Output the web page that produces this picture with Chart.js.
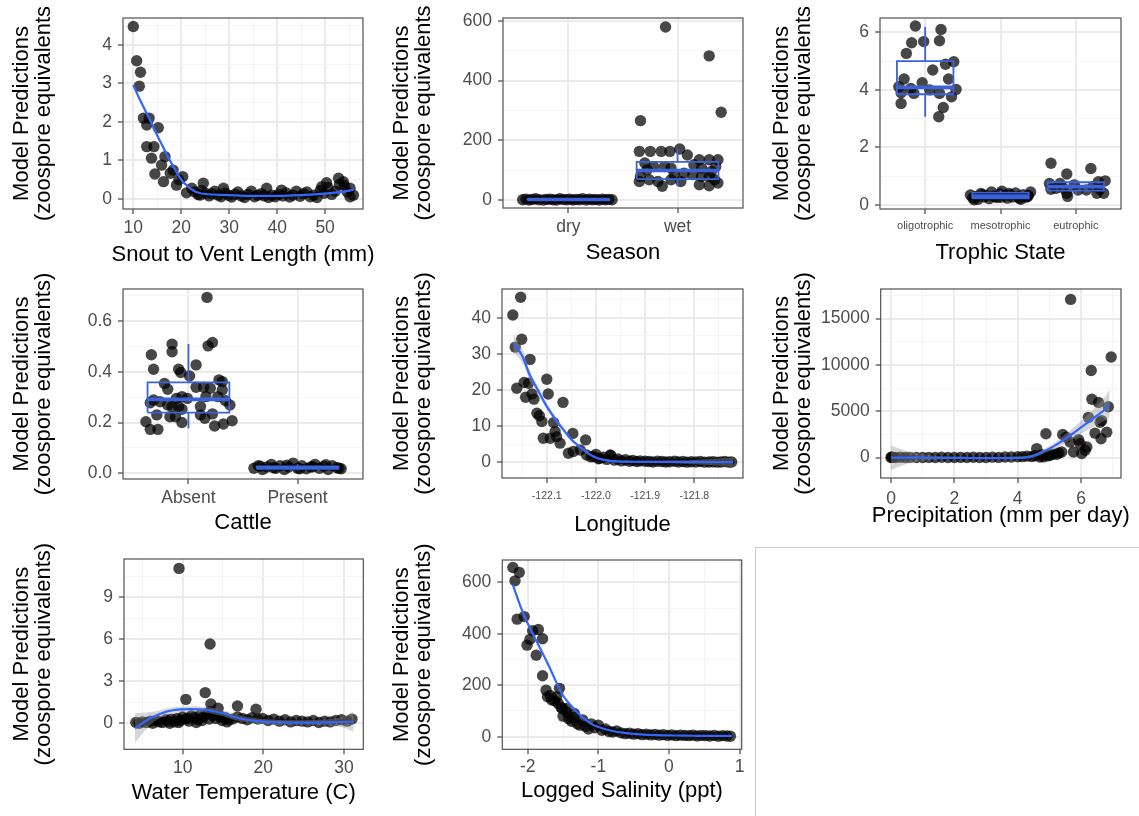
<!DOCTYPE html>
<html><head><meta charset="utf-8">
<script src="https://cdn.jsdelivr.net/npm/chart.js@4.4.0/dist/chart.umd.min.js"></script>
<style>
body{margin:0;background:#fff;width:1139px;height:816px;position:relative;overflow:hidden}
canvas{position:absolute}
.empty{position:absolute;left:755px;top:547px;width:390px;height:280px;border-left:1px solid #cccccc;border-top:1px solid #cccccc}
</style>
</head><body>
<div class="empty"></div>
<script>
// ---------------- DATA ----------------
// Panel 1: Snout to Vent Length
const svlX = [10,10.7,11.5,11.25,12.1,12.8,13.3,15.2,12.8,14.3,13.8,15.9,14.5,16.3,16.6,17.7,18.3,19.0,20.3,19.5,21.1,22.2,24.6,23.9,28.8,37.8,40.9,49.3,50.3,52.8,53.8,55.2,55.9,55.2,22.8,23.5,24.2,25.1,25.8,26.4,27.0,27.7,28.3,29.1,29.8,30.5,31.2,31.8,32.5,33.2,33.9,34.6,35.3,36.0,36.7,37.3,38.2,38.9,39.6,40.3,41.2,41.9,42.6,43.3,44.0,44.8,45.5,46.2,46.9,47.6,48.3,49.0,49.8,50.6,51.4,52.1,53.0,54.0,54.6];
const svlY = [4.48,3.59,3.29,2.93,2.1,1.92,2.1,1.85,1.36,1.36,1.06,0.88,0.65,0.45,1.1,0.67,0.75,0.36,0.58,0.5,0.16,0.28,0.41,0.1,0.28,0.28,0.23,0.32,0.42,0.54,0.45,0.28,0.1,0.06,0.18,0.12,0.22,0.15,0.08,0.14,0.2,0.1,0.06,0.16,0.1,0.05,0.12,0.18,0.08,0.04,0.12,0.2,0.06,0.1,0.14,0.08,0.04,0.1,0.06,0.12,0.08,0.16,0.05,0.1,0.2,0.07,0.14,0.18,0.06,0.1,0.04,0.22,0.15,0.3,0.12,0.2,0.38,0.35,0.18];
const svlCurveX = [10,11,12,13,14,15,16,17,18,19,20,21,22,23,24,25,30,35,40,45,50,53,56];
const svlCurveY = [2.96,2.68,2.42,2.17,1.92,1.65,1.4,1.15,0.92,0.7,0.5,0.37,0.26,0.19,0.15,0.13,0.1,0.08,0.08,0.1,0.14,0.18,0.24];

// Panel 2: Season
const seasonCats = ['dry','wet'];
const dryX = [0.58,0.61,0.64,0.67,0.7,0.73,0.77,0.8,0.83,0.86,0.89,0.92,0.95,0.98,1.01,1.04,1.07,1.1,1.13,1.16,1.19,1.22,1.25,1.28,1.31,1.34,1.37,1.4];
const dryY = [1,3,0,2,4,1,0,2,3,1,0,4,2,1,3,0,2,1,4,0,3,1,2,0,3,1,2,1];
const wetX = [1.89,2.29,2.40,1.66,1.65,1.75,1.85,1.93,2.02,2.09,2.20,2.29,2.37,1.70,1.78,1.88,1.66,1.74,1.82,1.86,1.97,2.06,2.14,2.22,2.31,2.35,1.65,2.03,2.20,2.29,2.37,1.94,1.72,2.22,2.34,2.15,1.94,2.29];
const wetY = [580,483,294,266,163,163,163,163,171,151,135,135,135,124,112,112,79,68,62,46,85,90,85,107,96,112,62,62,51,48,57,68,101,79,68,118,107,79];
const seasonStats = [[0,0,1.5,3,5],[46,70,99,128,170]]; // lo, q1, median, q3, hi

// Panel 3: Trophic State
const trophicCats = ['oligotrophic','mesotrophic','eutrophic'];
const oligoX = [0.87,1.21,0.82,0.98,1.19,0.75,1.27,1.38,1.10,0.72,0.65,0.96,1.31,1.41,0.68,0.85,1.19,1.35,0.68,1.24,1.18,1.06,0.81];
const oligoY = [6.22,6.10,5.64,5.68,5.71,5.27,4.89,4.98,4.69,4.38,4.11,4.25,4.38,4.02,3.90,3.88,3.88,3.76,3.53,3.39,3.07,4.0,4.05];
const mesoX = [1.6,1.63,1.67,1.7,1.74,1.78,1.81,1.85,1.88,1.92,1.95,1.99,2.02,2.06,2.09,2.13,2.16,2.2,2.23,2.27,2.3,2.34,2.37,2.4,1.65,1.76,1.9,2.0,2.11,2.25,2.36];
const mesoY = [0.35,0.25,0.3,0.2,0.4,0.28,0.33,0.22,0.45,0.3,0.26,0.38,0.48,0.32,0.24,0.35,0.28,0.42,0.3,0.2,0.36,0.27,0.33,0.45,0.18,0.36,0.31,0.27,0.4,0.24,0.3];
const eutroX = [2.67,2.88,3.2,2.65,2.79,2.88,2.89,3.23,3.3,3.39,3.37,3.28,3.14,3.03,2.98,2.74,2.67,2.83,3.32];
const eutroY = [1.45,1.08,1.27,0.75,0.75,0.41,0.3,0.64,0.81,0.84,0.41,0.41,0.52,0.52,0.7,0.58,0.55,0.6,0.55];
const trophicStats = [[3.07,3.85,4.09,5.0,6.2],[0.2,0.23,0.31,0.43,0.5],[0.35,0.5,0.64,0.79,0.88]];

// Panel 4: Cattle
const cattleCats = ['Absent','Present'];
const absX = [1.17,0.85,1.18,1.22,0.66,0.85,0.68,0.91,0.93,1.07,0.78,0.81,1.01,1.07,1.14,1.2,1.28,1.31,1.31,0.65,0.68,0.74,0.81,0.85,0.89,0.94,0.99,0.91,0.83,0.88,0.71,0.94,0.61,0.65,0.72,0.94,1.11,1.15,1.22,1.11,1.24,1.32,1.4,1.38,1.27,1.34,1.16];
const absY = [0.693,0.509,0.502,0.515,0.467,0.479,0.41,0.41,0.397,0.427,0.354,0.331,0.383,0.339,0.339,0.335,0.368,0.361,0.328,0.278,0.289,0.282,0.269,0.263,0.295,0.302,0.295,0.263,0.223,0.223,0.23,0.252,0.203,0.173,0.173,0.2,0.23,0.217,0.234,0.263,0.186,0.194,0.207,0.269,0.302,0.286,0.302];
const presX = [1.6,1.64,1.68,1.72,1.76,1.8,1.84,1.88,1.92,1.96,2.0,2.04,2.08,2.12,2.16,2.2,2.24,2.28,2.32,2.36,2.4,1.66,1.78,1.9,2.02,2.14,2.26,2.38];
const presY = [0.02,0.03,0.015,0.025,0.035,0.02,0.03,0.015,0.025,0.04,0.02,0.03,0.018,0.025,0.035,0.02,0.028,0.015,0.03,0.022,0.018,0.028,0.022,0.032,0.018,0.026,0.034,0.02];
const cattleStats = [[0.177,0.239,0.291,0.358,0.509],[0.012,0.018,0.022,0.027,0.036]];

// Panel 5: Longitude
const lonX = [-122.169,-122.153,-122.164,-122.151,-122.161,-122.146,-122.137,-122.134,-122.143,-122.130,-122.126,-122.100,-122.097,-122.120,-122.115,-122.110,-122.086,-122.107,-122.093,-122.067,-122.083,-122.080,-122.073,-122.047,-122.056,-122.046,-122.021,-122.032,-122.019,-122.005,-121.992,-121.971,-121.985,-121.978,-121.97,-121.962,-121.955,-121.948,-121.94,-121.932,-121.925,-121.917,-121.91,-121.9,-121.892,-121.884,-121.875,-121.866,-121.858,-121.85,-121.84,-121.832,-121.823,-121.815,-121.806,-121.797,-121.788,-121.779,-121.77,-121.762,-121.754,-121.746,-121.738,-121.73,-121.724,-122.01,-122.0,-121.995];
const lonY = [40.8,45.7,31.9,34.1,20.5,22.1,21.9,28.5,18.0,18.9,17.5,23.0,18.9,13.6,12.9,11.3,11.0,6.65,6.65,16.6,8.5,7.1,5.3,8.0,2.5,3.0,6.2,3.4,2.0,1.6,1.1,2.0,1.4,0.8,1.9,0.6,0.9,0.4,0.7,0.3,0.5,0.2,0.4,0.3,0.2,0.1,0.3,0.2,0.1,0.15,0.3,0.1,0.2,0.05,0.15,0.1,0.2,0.05,0.1,0.15,0.05,0.1,0.2,0.05,0.1,1.5,2.2,1.0];
const lonCurveX = [-122.168,-122.15,-122.134,-122.12,-122.1,-122.08,-122.066,-122.05,-122.032,-122.015,-121.998,-121.98,-121.965,-121.93,-121.85,-121.721];
const lonCurveY = [33,29.5,24,20.5,15.5,11.5,9,6.3,4.2,2.4,1.2,0.6,0.3,0.15,0.1,0.05];
const lonUpper = [35.5,31.3,25.3,21.5,16.3,12.2,9.6,6.8,4.6,2.7,1.5,0.9,0.6,0.4,0.4,1.3];
const lonLower = [30.5,27.7,22.7,19.5,14.7,10.8,8.4,5.8,3.8,2.1,0.9,0.3,0,-0.1,-0.2,-1.2];

// Panel 6: Precipitation
const precX = [5.67,6.95,6.32,6.34,6.55,6.86,6.23,6.65,6.6,6.44,6.81,6.63,4.89,5.42,5.53,4.6,5.65,5.92,5.97,6.18,5.76,6.02,6.13,5.39,5.02,5.23,4.81,0,0.02,0.05,0.15,0.3,0.45,0.6,0.8,1.0,1.2,1.4,1.6,1.8,2.0,2.2,2.4,2.6,2.8,3.0,3.2,3.4,3.6,3.8,4.0,4.15,4.3,4.45,4.55,4.7,4.75,4.95,5.1,5.3];
const precY = [17062,10843,9385,6293,5937,5474,4337,3981,3800,2630,2737,2026,2560,2488,2204,960,1671,1920,1493,1138,604,427,782,604,249,356,71,0,50,20,10,30,0,20,10,0,15,5,25,0,10,20,5,30,10,0,40,20,60,50,80,100,150,120,200,60,300,180,350,500];
const precCurveX = [0,0.5,1,1.5,2,2.5,3,3.5,4,4.25,4.5,4.75,5,5.25,5.5,5.75,6,6.25,6.5,6.75,6.9];
const precCurveY = [0,-10,-20,-30,-40,-50,-60,-60,-30,20,200,550,960,1450,2030,2620,3250,3880,4520,5180,5760];
const precUpper = [1300,700,350,150,80,60,50,60,100,170,350,750,1250,1800,2500,3200,3950,4750,5600,6500,7360];
const precLower = [-1350,-700,-380,-200,-150,-150,-160,-170,-150,-120,-20,330,670,1080,1560,2050,2580,3060,3530,4000,4340];

// Panel 7: Water Temperature
const wtX = [9.55,13.4,12.8,10.4,13.5,14.4,16.8,19.1,4.2,4.6,5.0,5.5,6.0,6.3,6.8,7.1,7.5,7.9,8.2,8.6,9.0,9.3,9.7,10.0,10.4,10.8,11.1,11.5,11.9,12.2,12.6,13.0,13.3,13.7,14.1,14.5,14.9,15.3,15.7,8.4,9.5,10.6,11.7,12.4,13.5,14.6,15.5,16.2,16.8,17.4,18.0,18.6,19.3,19.9,20.6,21.3,22.0,22.7,23.4,24.1,24.8,25.5,26.2,26.9,27.6,28.3,29.0,29.7,30.4,31.0];
const wtY = [11.07,5.67,2.19,1.71,1.38,1.07,1.24,1.0,0.05,0.0,0.1,0.05,0.15,0.0,0.2,0.1,0.05,0.25,0.15,0.3,0.1,0.35,0.2,0.45,0.3,0.15,0.55,0.4,0.25,0.6,0.45,0.7,0.3,0.55,0.35,0.6,0.2,0.4,0.25,0.0,0.05,0.35,0.05,0.2,0.85,0.45,0.1,0.3,0.45,0.35,0.25,0.4,0.3,0.35,0.2,0.3,0.15,0.25,0.1,0.2,0.15,0.1,0.2,0.05,0.15,0.1,0.2,0.25,0.15,0.3];
const wtCurveX = [4.1,5,6,7,8,9,10,11,12,13,14,15,16,17,18,19,20,22,24,26,28,30,31.2];
const wtCurveY = [-0.36,0.0,0.36,0.62,0.83,0.95,1.0,1.02,1.0,0.95,0.85,0.72,0.52,0.36,0.25,0.17,0.12,0.07,0.05,0.05,0.06,0.09,0.12];
const wtUpper = [0.7,0.75,0.8,0.9,1.05,1.15,1.2,1.22,1.2,1.17,1.08,0.95,0.75,0.57,0.44,0.36,0.31,0.24,0.21,0.22,0.28,0.5,0.85];
const wtLower = [-1.4,-0.75,-0.1,0.32,0.6,0.75,0.8,0.82,0.8,0.75,0.62,0.5,0.3,0.16,0.07,-0.01,-0.06,-0.1,-0.11,-0.12,-0.16,-0.32,-0.6];

// Panel 8: Logged Salinity
const salX = [-2.21,-2.12,-2.18,-2.15,-2.05,-1.93,-1.85,-1.79,-2.01,-1.97,-1.88,-1.79,-1.74,-1.72,-1.55,-1.66,-1.59,-1.51,-1.5,-1.46,-1.42,-1.38,-1.34,-1.3,-1.26,-1.22,-1.18,-1.14,-1.1,-1.05,-1.0,-0.95,-0.9,-0.85,-0.8,-0.74,-0.68,-0.62,-0.56,-0.5,-0.44,-0.38,-0.32,-0.26,-0.2,-0.14,-0.08,-0.02,0.04,0.1,0.16,0.22,0.28,0.34,0.4,0.46,0.52,0.58,0.64,0.7,0.76,0.82,0.87,-1.62,-1.57,-1.53,-1.68,-1.45,-1.35];
const salY = [658,639,606,457,467,412,417,381,356,378,317,237,181,155,188,143,155,110,80,110,70,60,90,50,45,65,40,30,50,35,45,25,30,20,18,22,15,12,14,10,12,8,10,7,9,6,8,5,7,4,6,5,4,6,3,5,4,3,5,2,4,3,2,140,130,115,160,95,75];
const salCurveX = [-2.21,-2.1,-2.0,-1.9,-1.8,-1.7,-1.6,-1.5,-1.4,-1.3,-1.2,-1.1,-1.0,-0.8,-0.6,-0.4,-0.2,0,0.2,0.4,0.6,0.89];
const salCurveY = [590,505,440,385,330,275,215,160,125,95,70,50,38,22,14,9,6,5,4,3.5,3,3];

// ---------------- HELPERS ----------------
const FONT = '"Liberation Sans", Arial, Helvetica, sans-serif';
Chart.defaults.font.family = FONT;
const PT = 'rgba(0,0,0,0.72)';
const LINEC = '#3366FF';
const BOXC = '#3b62d9';
const BOX_HALF = 0.375;

function zip(xs, ys) { const n = Math.min(xs.length, ys.length); const o = []; for (let i = 0; i < n; i++) o.push({x: xs[i], y: ys[i]}); return o; }
function pointsDs(xs, ys) { return {data: zip(xs, ys), showLine: false, pointRadius: 5.7, pointHoverRadius: 0, pointBackgroundColor: PT, pointBorderWidth: 0, clip: 0, order: 2}; }
function lineDs(xs, ys) { return {data: zip(xs, ys), borderColor: LINEC, borderWidth: 2.2, pointRadius: 0, fill: false, cubicInterpolationMode: 'monotone', clip: 0, order: 0}; }
function ribbonDs(xs, up, lo) {
  return [
    {data: zip(xs, up), borderWidth: 1, borderColor: 'rgba(0,0,0,0)', pointRadius: 0, fill: '+1', backgroundColor: 'rgba(153,153,153,0.4)', cubicInterpolationMode: 'monotone', clip: 0, order: 1},
    {data: zip(xs, lo), borderWidth: 1, borderColor: 'rgba(0,0,0,0)', pointRadius: 0, fill: false, cubicInterpolationMode: 'monotone', clip: 0, order: 1}
  ];
}
function boxDs(stats) {
  const out = [], med = [];
  stats.forEach((s, i) => {
    const c = i + 1; const [lo, q1, m, q3, hi] = s;
    out.push({x: c - BOX_HALF, y: q1}, {x: c + BOX_HALF, y: q1}, {x: c + BOX_HALF, y: q3}, {x: c - BOX_HALF, y: q3}, {x: c - BOX_HALF, y: q1}, {x: c, y: null},
             {x: c, y: q3}, {x: c, y: hi}, {x: c, y: null}, {x: c, y: lo}, {x: c, y: q1}, {x: c, y: null});
    med.push({x: c - BOX_HALF, y: m}, {x: c + BOX_HALF, y: m}, {x: c, y: null});
  });
  return [
    {data: out, borderColor: BOXC, borderWidth: 1.8, pointRadius: 0, fill: false, spanGaps: false, clip: 0, order: 0},
    {data: med, borderColor: BOXC, borderWidth: 3.6, pointRadius: 0, fill: false, spanGaps: false, clip: 0, order: 0}
  ];
}

const frame = {id: 'frame', afterDatasetsDraw(chart) {
  const {ctx, chartArea: a} = chart;
  ctx.save(); ctx.strokeStyle = '#505050'; ctx.lineWidth = 1.2;
  ctx.strokeRect(a.left, a.top, a.right - a.left, a.bottom - a.top);
  ctx.restore();
}};

// axis titles drawn without width compression
const titles = {id: 'titles', afterDraw(chart, args, o) {
  const {ctx, chartArea: a} = chart;
  ctx.save();
  ctx.fillStyle = '#000';
  ctx.font = '22px ' + FONT;
  ctx.textAlign = 'center'; ctx.textBaseline = 'alphabetic';
  ctx.fillText(o.xTitle, (a.left + a.right) / 2, o.xBase);
  const cy = (a.top + a.bottom) / 2;
  o.yTitle.forEach((line, i) => {
    ctx.save();
    ctx.translate(o.yBase[i], cy);
    ctx.rotate(-Math.PI / 2);
    ctx.fillText(line, 0, 0);
    ctx.restore();
  });
  ctx.restore();
}};

function mkTicks(major, minor) {
  return major.map(v => ({value: v, minor: false})).concat((minor || []).map(v => ({value: v, minor: true}))).sort((a, b) => a.value - b.value);
}
function gridOpts() {
  return {
    color: c => (c.tick && c.tick.minor) ? '#F4F4F4' : '#EBEBEB',
    lineWidth: c => (c.tick && c.tick.minor) ? 1 : 2,
    tickColor: c => (c.tick && c.tick.minor) ? 'rgba(0,0,0,0)' : '#333333',
    tickWidth: 1.1, tickLength: 5, drawTicks: true, drawOnChartArea: true
  };
}

function panel(p) {
  const cv = document.createElement('canvas');
  cv.width = p.cell.w; cv.height = p.cell.h;
  cv.style.left = p.cell.x + 'px'; cv.style.top = p.cell.y + 'px';
  document.body.appendChild(cv);
  new Chart(cv, {
    type: 'line',
    data: {datasets: p.datasets},
    options: {
      responsive: false, animation: false, events: [],
      layout: {autoPadding: false, padding: {left: 0, top: p.box.t - p.cell.y, right: p.cell.x + p.cell.w - p.box.r, bottom: 0}},
      plugins: {legend: {display: false}, tooltip: {enabled: false},
        titles: {xTitle: p.x.title, xBase: p.x.base - p.cell.y, yTitle: p.y.title, yBase: [27.5, 50.3]}},
      scales: {
        x: {
          type: 'linear', min: p.x.min, max: p.x.max,
          afterBuildTicks: s => { s.ticks = mkTicks(p.x.major, p.x.minor); },
          afterFit: s => { s.height = p.cell.y + p.cell.h - p.box.b; s.paddingLeft = 0; s.paddingRight = 0; },
          ticks: {autoSkip: false, maxRotation: 0, minRotation: 0, padding: p.x.pad, color: '#4D4D4D', font: {size: p.x.fs || 17.5},
                  callback: (v, i, t) => t[i].minor ? '' : p.x.fmt(v)},
          grid: gridOpts(), border: {display: false},
          title: {display: false}
        },
        y: {
          type: 'linear', min: p.y.min, max: p.y.max,
          afterBuildTicks: s => { s.ticks = mkTicks(p.y.major, p.y.minor); },
          afterFit: s => { s.width = p.box.l - p.cell.x; s.paddingTop = 0; s.paddingBottom = 0; },
          ticks: {autoSkip: false, padding: 6, color: '#4D4D4D', font: {size: 17.5},
                  callback: (v, i, t) => t[i].minor ? '' : p.y.fmt(v)},
          grid: gridOpts(), border: {display: false},
          title: {display: false}
        }
      }
    },
    plugins: [frame, titles]
  });
}

const YT1 = ['Model Predictions', '(zoospore equivalents'];
const YT = ['Model Predictions', '(zoospore equivalents)'];
const num = v => String(v);
const cat = arr => v => arr[Math.round(v) - 1] || '';

// Panel 1
panel({cell: {x: 0, y: 0, w: 380, h: 270}, box: {l: 123, t: 18, r: 363, b: 209},
  x: {min: 7.85, max: 57.9, major: [10, 20, 30, 40, 50], minor: [15, 25, 35, 45, 55], pad: 3.7, fmt: num, title: 'Snout to Vent Length (mm)', base: 261},
  y: {min: -0.26, max: 4.7, major: [0, 1, 2, 3, 4], minor: [0.5, 1.5, 2.5, 3.5, 4.5], fmt: num, title: YT1},
  datasets: [lineDs(svlCurveX, svlCurveY), pointsDs(svlX, svlY)]});

// Panel 2
panel({cell: {x: 380, y: 0, w: 380, h: 270}, box: {l: 503, t: 18, r: 743, b: 208},
  x: {min: 0.4, max: 2.6, major: [1, 2], minor: [], pad: 3.4, fmt: cat(seasonCats), title: 'Season', base: 259.3},
  y: {min: -26.8, max: 610, major: [0, 200, 400, 600], minor: [100, 300, 500], fmt: num, title: YT1},
  datasets: [...boxDs(seasonStats), pointsDs(dryX, dryY), pointsDs(wetX, wetY)]});

// Panel 3
panel({cell: {x: 760, y: 0, w: 379, h: 270}, box: {l: 880, t: 18, r: 1121, b: 209},
  x: {min: 0.4, max: 3.6, major: [1, 2, 3], minor: [], pad: 5.6, fs: 11, fmt: cat(trophicCats), title: 'Trophic State', base: 259.3},
  y: {min: -0.139, max: 6.5, major: [0, 2, 4, 6], minor: [1, 3, 5], fmt: num, title: YT1},
  datasets: [...boxDs(trophicStats), pointsDs(oligoX, oligoY), pointsDs(mesoX, mesoY), pointsDs(eutroX, eutroY)]});

// Panel 4
panel({cell: {x: 0, y: 270, w: 380, h: 270}, box: {l: 123, t: 289, r: 363, b: 479},
  x: {min: 0.4, max: 2.6, major: [1, 2], minor: [], pad: 3.2, fmt: cat(cattleCats), title: 'Cattle', base: 529.3},
  y: {min: -0.0225, max: 0.726, major: [0, 0.2, 0.4, 0.6], minor: [0.1, 0.3, 0.5, 0.7], fmt: v => v.toFixed(1), title: YT},
  datasets: [...boxDs(cattleStats), pointsDs(absX, absY), pointsDs(presX, presY)]});

// Panel 5
panel({cell: {x: 380, y: 270, w: 380, h: 270}, box: {l: 502, t: 289, r: 743, b: 478},
  x: {min: -122.191, max: -121.701, major: [-122.1, -122.0, -121.9, -121.8], minor: [-122.15, -122.05, -121.95, -121.85, -121.75], pad: 7.0, fs: 10.5, fmt: v => v.toFixed(1), title: 'Longitude', base: 530.7},
  y: {min: -4.35, max: 48, major: [0, 10, 20, 30, 40], minor: [5, 15, 25, 35, 45], fmt: num, title: YT},
  datasets: [lineDs(lonCurveX, lonCurveY), ...ribbonDs(lonCurveX, lonUpper, lonLower), pointsDs(lonX, lonY)]});

// Panel 6
panel({cell: {x: 760, y: 270, w: 379, h: 270}, box: {l: 880.7, t: 289, r: 1121, b: 478},
  x: {min: -0.325, max: 7.26, major: [0, 2, 4, 6], minor: [1, 3, 5, 7], pad: 5.2, fmt: num, title: 'Precipitation (mm per day)', base: 521.7},
  y: {min: -2208, max: 18186, major: [0, 5000, 10000, 15000], minor: [2500, 7500, 12500, 17500], fmt: num, title: YT},
  datasets: [lineDs(precCurveX, precCurveY), ...ribbonDs(precCurveX, precUpper, precLower), pointsDs(precX, precY)]});

// Panel 7
panel({cell: {x: 0, y: 540, w: 380, h: 276}, box: {l: 124, t: 559, r: 363.3, b: 749.3},
  x: {min: 2.73, max: 32.4, major: [10, 20, 30], minor: [5, 15, 25], pad: 3.2, fmt: num, title: 'Water Temperature (C)', base: 799.3},
  y: {min: -1.86, max: 11.74, major: [0, 3, 6, 9], minor: [1.5, 4.5, 7.5, 10.5], fmt: num, title: YT},
  datasets: [lineDs(wtCurveX, wtCurveY), ...ribbonDs(wtCurveX, wtUpper, wtLower), pointsDs(wtX, wtY)]});

// Panel 8
panel({cell: {x: 380, y: 540, w: 380, h: 276}, box: {l: 502.3, t: 560, r: 741.7, b: 749.3},
  x: {min: -2.36, max: 1.03, major: [-2, -1, 0, 1], minor: [-1.5, -0.5, 0.5], pad: 2.8, fmt: num, title: 'Logged Salinity (ppt)', base: 796.7},
  y: {min: -49, max: 687, major: [0, 200, 400, 600], minor: [100, 300, 500], fmt: num, title: YT},
  datasets: [lineDs(salCurveX, salCurveY), pointsDs(salX, salY)]});
</script>
</body></html>
